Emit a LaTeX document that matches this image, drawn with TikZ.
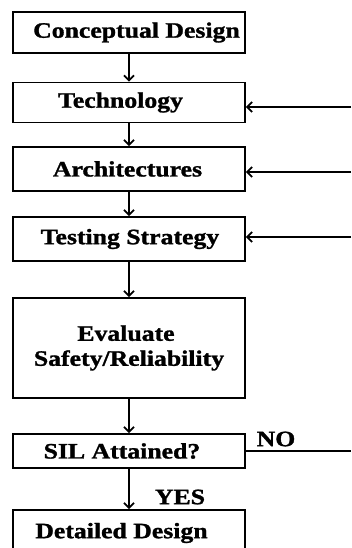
\documentclass[tikz,border=0pt]{standalone}
\usepackage{fontspec}
\usepackage{graphicx}
\setmainfont{Liberation Serif}[BoldFeatures={FakeBold=1.2}]
\usetikzlibrary{arrows.meta}
\newcommand{\wtext}[1]{\scalebox{1.17}[1]{#1}}
\begin{document}
\begin{tikzpicture}[x=1pt,y=-1pt,
  box/.style={draw, line width=1.8pt, minimum width=232pt, inner sep=0pt, font=\bfseries\fontsize{22}{25}\selectfont, align=center},
  arr/.style={line width=1.8pt, -{Straight Barb[length=5pt,width=10pt,line width=1.8pt]}},
  lbl/.style={font=\bfseries\fontsize{22}{25}\selectfont, inner sep=0pt}]
\useasboundingbox (0,0) rectangle (351,548);
\clip (0,0) rectangle (351,548);
\node[box, minimum height=41pt] (cd) at (129,32.5) {\hspace*{15pt}\wtext{Conceptual Design}};
\node[box, minimum height=40pt] (tech) at (129,102.5) {\wtext{Technology}\hspace*{17pt}};
\node[box, minimum height=44pt] (arch) at (129,169) {\wtext{Architectures}\hspace*{3pt}};
\node[box, minimum height=44pt] (test) at (129,239) {\hspace*{2pt}\wtext{Testing Strategy}};
\node[box, minimum height=100pt] (eval) at (129,348) {\wtext{Evaluate}\hspace*{6pt}\\\wtext{Safety/Reliability}};
\node[box, minimum height=34pt] (sil) at (129,451) {\wtext{SIL Attained?}\hspace*{14pt}};
\node[box, minimum height=46pt] (dd) at (129,533) {\wtext{Detailed Design}\hspace*{15pt}};
\coordinate (t1) at (351,107);
\coordinate (t2) at (351,172);
\coordinate (t3) at (351,237);
\coordinate (t4) at (351,451);
\draw[arr] (cd) -- (tech);
\draw[arr] (tech) -- (arch);
\draw[arr] (arch) -- (test);
\draw[arr] (test) -- (eval);
\draw[arr] (eval) -- (sil);
\draw[arr] (sil) -- (dd);
\draw[arr] (t1) -- (t1 -| tech.east);
\draw[arr] (t2) -- (t2 -| arch.east);
\draw[arr] (t3) -- (t3 -| test.east);
\draw[line width=1.8pt] (t4 -| sil.east) -- (t4);
\node[lbl] (no) at (276,439) {\wtext{NO}};
\node[lbl] (yes) at (180,497) {\wtext{YES}};
\end{tikzpicture}
\end{document}
